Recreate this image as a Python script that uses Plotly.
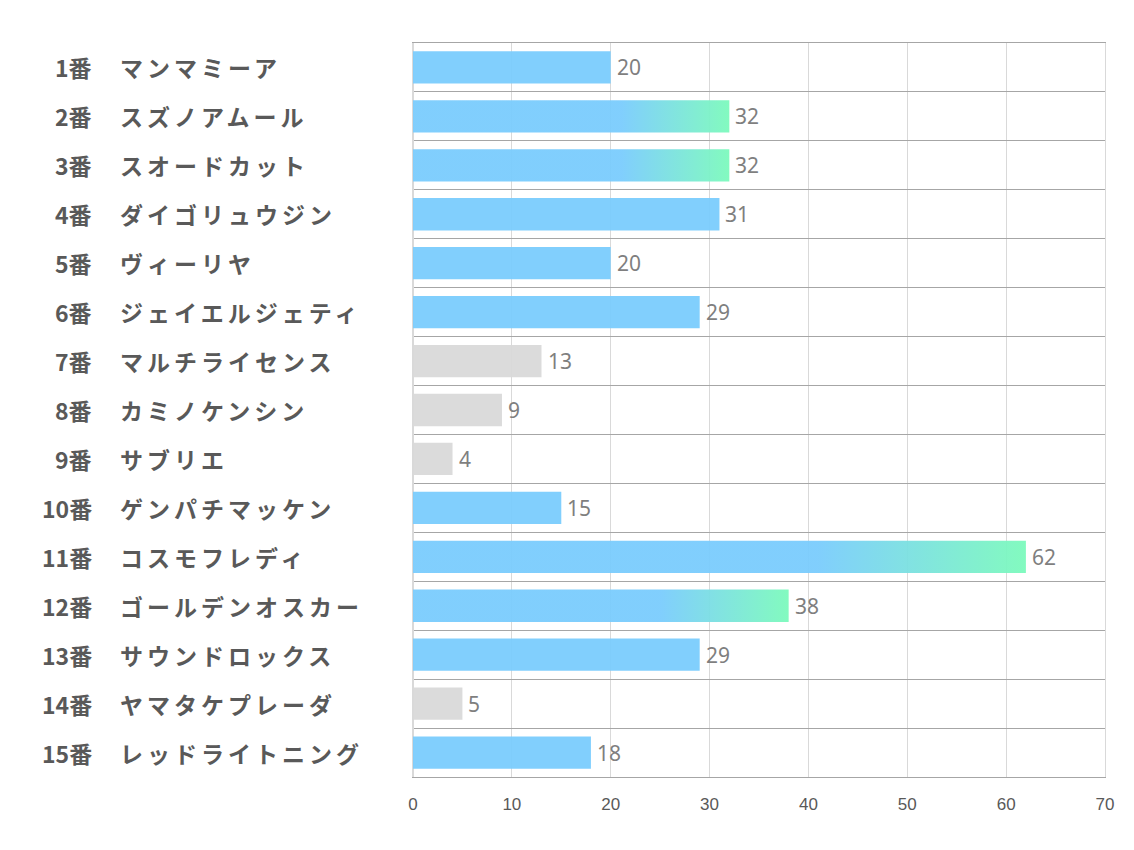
import plotly.graph_objects as go

numbers = ["1番", "2番", "3番", "4番", "5番", "6番", "7番", "8番", "9番", "10番",
           "11番", "12番", "13番", "14番", "15番"]
names = ["マンマミーア", "スズノアムール", "スオードカット", "ダイゴリュウジン", "ヴィーリヤ",
         "ジェイエルジェティ", "マルチライセンス", "カミノケンシン", "サブリエ", "ゲンパチマッケン",
         "コスモフレディ", "ゴールデンオスカー", "サウンドロックス", "ヤマタケプレーダ", "レッドライトニング"]
values = [20, 32, 32, 31, 20, 29, 13, 9, 4, 15, 62, 38, 29, 5, 18]
styles = ["blue", "grad", "grad", "blue", "blue", "blue", "grey", "grey", "grey", "blue",
          "grad", "grad", "blue", "grey", "blue"]
x_ticks = [0, 10, 20, 30, 40, 50, 60, 70]

BLUE = "rgba(122,204,253,0.95)"
GREEN = "rgba(124,250,188,0.95)"
GREY = "rgba(217,217,217,0.95)"
BAR_W = 0.66
LABEL_COLOR = "#595959"
VALUE_COLOR = "#7f7f7f"

idx = list(range(len(values)))
fig = go.Figure()

# plain bars (blue / grey)
plain = [i for i in idx if styles[i] != "grad"]
fig.add_trace(go.Bar(
    y=[i for i in plain], x=[values[i] for i in plain], orientation="h",
    width=BAR_W,
    marker=dict(color=[BLUE if styles[i] == "blue" else GREY for i in plain], line=dict(width=0)),
    hoverinfo="x", showlegend=False,
))

# gradient bars
for i in idx:
    if styles[i] != "grad":
        continue
    v = values[i]
    h = BAR_W / 2
    fig.add_trace(go.Scatter(
        x=[0, v, v, 0, 0], y=[i - h, i - h, i + h, i + h, i - h],
        mode="lines", line=dict(width=0), fill="toself",
        fillgradient=dict(type="horizontal",
                          colorscale=[[0, BLUE], [0.66, BLUE], [1, GREEN]]),
        hoverinfo="skip", showlegend=False,
    ))

annotations = []
for i in idx:
    annotations.append(dict(
        x=values[i], y=i, xref="x", yref="y", text=str(values[i]),
        xanchor="left", yanchor="middle", xshift=4, showarrow=False,
        font=dict(family="Noto Sans, Open Sans, sans-serif", size=21, color=VALUE_COLOR),
    ))
    annotations.append(dict(
        x=-0.4610, y=i, xref="paper", yref="y", text=numbers[i],
        xanchor="right", yanchor="middle", showarrow=False,
        font=dict(family="Noto Sans CJK JP", size=23, color=LABEL_COLOR, weight="bold"),
    ))
    annotations.append(dict(
        x=-0.4270, y=i, xref="paper", yref="y",
        text='<span style="letter-spacing:4px">' + names[i] + '</span>',
        xanchor="left", yanchor="middle", showarrow=False,
        font=dict(family="Noto Sans CJK JP", size=23, color=LABEL_COLOR, weight="bold"),
    ))

fig.update_layout(
    width=1134, height=850,
    margin=dict(l=405, r=37, t=35, b=81),
    plot_bgcolor="white", paper_bgcolor="white",
    annotations=annotations,
    xaxis=dict(
        range=[0, 70], tickvals=x_ticks, showgrid=True, gridcolor="#d9d9d9", gridwidth=1,
        zeroline=True, zerolinecolor="#d9d9d9", zerolinewidth=1,
        showline=True, mirror=True, linecolor="#a6a6a6", linewidth=1,
        ticks="outside", ticklen=12, tickcolor="rgba(0,0,0,0)",
        tickfont=dict(family="Liberation Sans Narrow, Liberation Sans, sans-serif", size=17, color="#595959"),
        fixedrange=True,
    ),
    yaxis=dict(
        range=[14.5, -0.5], tickvals=[k - 0.5 for k in range(len(values) + 1)],
        showticklabels=False, showgrid=True, gridcolor="#a6a6a6", gridwidth=1,
        zeroline=False, showline=True, mirror=True, linecolor="#d9d9d9", linewidth=1,
        fixedrange=True,
    ),
    bargap=0.34,
)

fig.write_html("out.html")
